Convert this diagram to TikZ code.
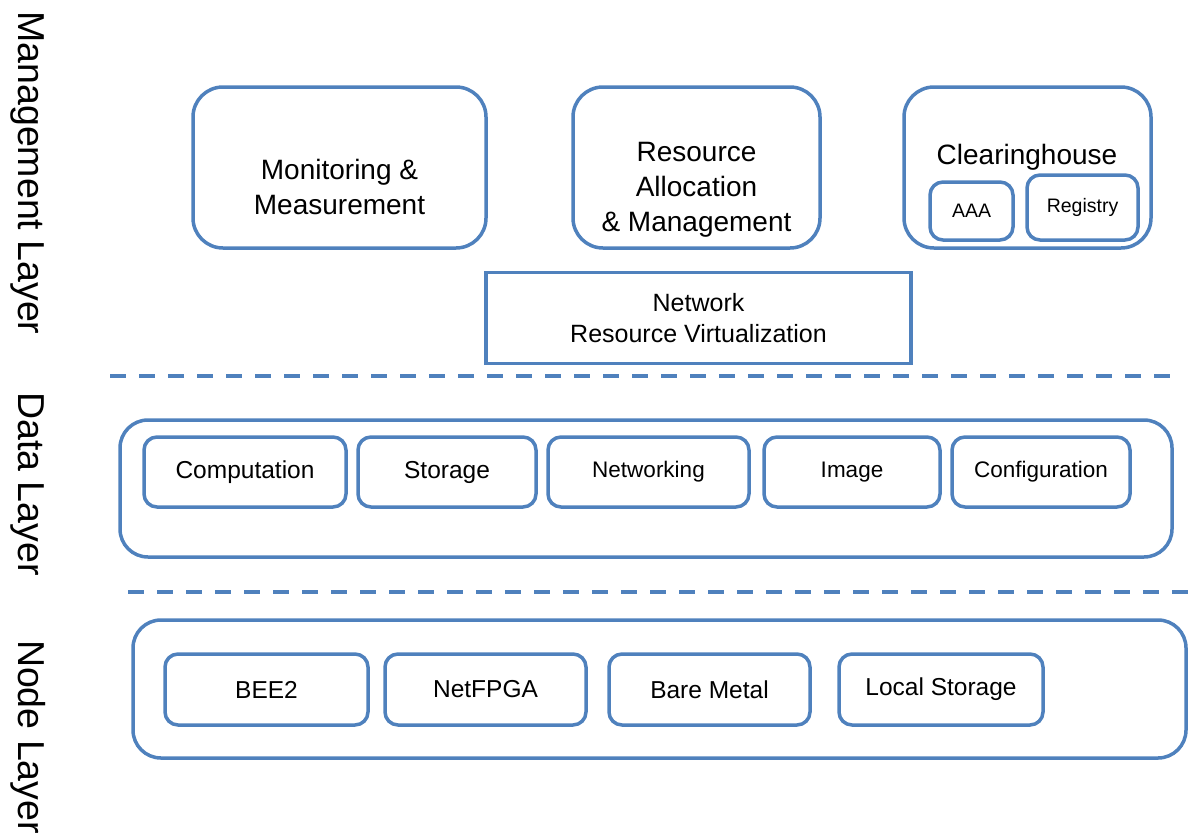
\documentclass[tikz,border=0pt]{standalone}
\usepackage{fontspec}
\setmainfont{Liberation Sans}
\definecolor{bl}{HTML}{4F81BD}
\begin{document}
\begin{tikzpicture}[x=1pt,y=-1pt,
  outerbox/.style={draw=bl,line width=3.5pt,rounded corners=28pt,inner sep=0pt},
  innerbox/.style={draw=bl,line width=3.5pt,rounded corners=13pt,inner sep=0pt},
  mgmt/.style={draw=bl,line width=3.5pt,rounded corners=30pt,inner sep=0pt},
  mgmttext/.style={align=center,inner sep=0pt,font=\fontsize{28}{35}\selectfont},
  sepline/.style={draw=bl,line width=3.5pt,dash pattern=on 16pt off 13pt},
  layerlabel/.style={rotate=-90,font=\fontsize{37.5}{40}\selectfont,inner sep=0pt},
  txt25/.style={font=\fontsize{24.5}{30}\selectfont},
  txt23/.style={font=\fontsize{22.5}{30}\selectfont}]
\useasboundingbox (0,0) rectangle (1190,835);
% layer labels
\node[layerlabel,anchor=base] (lm) at (18,173) {Management Layer};
\node[layerlabel,anchor=base] (ld) at (18,484) {Data Layer};
\node[layerlabel,anchor=base] (ln) at (18,737) {Node Layer};
% management layer
\node[mgmt,minimum width=293pt,minimum height=161pt] (mon) at (339.5,167.5) {};
\node[mgmttext] (mont) at (339.5,187) {Monitoring \&\\Measurement};
\node[mgmt,minimum width=247pt,minimum height=161pt] (ram) at (696.5,167.5) {};
\node[mgmttext] (ramt) at (696.5,190) {Resource\\Allocation\\\& Management};
\node[mgmt,minimum width=247pt,minimum height=161pt] (ch) at (1027.5,167.5) {};
\node[mgmttext] (cht) at (1027,157) {Clearinghouse};
\node[innerbox,minimum width=83pt,minimum height=58pt,font=\fontsize{19.5}{24}\selectfont] (aaa) at (971.5,211) {AAA};
\node[innerbox,minimum width=111pt,minimum height=65pt,font=\fontsize{19.5}{24}\selectfont] (reg) at (1082.5,207.5) {Registry};
\node[draw=bl,line width=3.5pt,inner sep=0pt,minimum width=425pt,minimum height=91pt,align=center,font=\fontsize{25}{31}\selectfont] (nrv) at (698.5,318) {Network\\Resource Virtualization};
% separators
\coordinate (s1a) at (110,376);
\coordinate (s1b) at (1174,376);
\coordinate (s2a) at (128,592);
\coordinate (s2b) at (1190,592);
\draw[sepline] (s1a) -- (s1b);
\draw[sepline] (s2a) -- (s2b);
% data layer
\node[outerbox,minimum width=1052pt,minimum height=137pt] (data) at (646,488.5) {};
\node[innerbox,txt25,minimum width=202pt,minimum height=70pt] (comp) at (245,472) {Computation};
\node[innerbox,txt25,minimum width=178pt,minimum height=70pt] (stor) at (447,472) {Storage};
\node[innerbox,txt23,minimum width=201pt,minimum height=70pt] (netw) at (648.5,472) {Networking};
\node[innerbox,txt23,minimum width=176pt,minimum height=70pt] (img) at (852,472) {Image};
\node[innerbox,txt23,minimum width=178pt,minimum height=70pt] (conf) at (1041,472) {Configuration};
% node layer
\node[outerbox,minimum width=1053pt,minimum height=138pt] (nodel) at (659.5,689) {};
\node[innerbox,txt25,minimum width=203pt,minimum height=71pt] (bee) at (266.5,689.5) {BEE2};
\node[innerbox,txt25,minimum width=201pt,minimum height=71pt] (nfp) at (485.5,689.5) {NetFPGA};
\node[innerbox,txt25,minimum width=201pt,minimum height=71pt] (bm) at (709.5,689.5) {Bare Metal};
\node[innerbox,txt25,minimum width=204pt,minimum height=71pt] (ls) at (941,689.5) {Local Storage};
\end{tikzpicture}
\end{document}
